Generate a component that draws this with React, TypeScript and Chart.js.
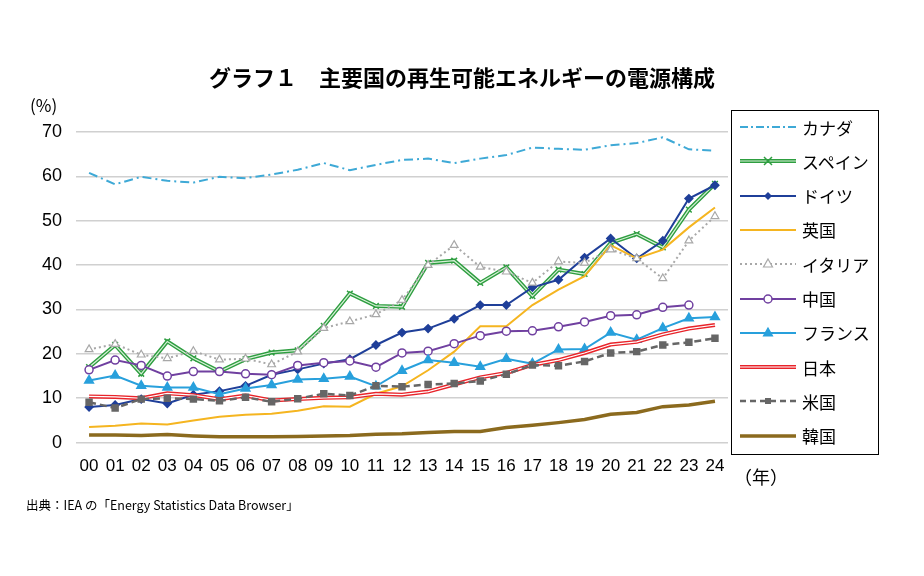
import React, { useEffect, useRef } from "react";
import { Chart, registerables } from "chart.js";
Chart.register(...registerables);

const years = ["00","01","02","03","04","05","06","07","08","09","10","11","12","13","14","15","16","17","18","19","20","21","22","23","24"];
const canada = [60.8,58.2,59.9,59.0,58.6,59.9,59.6,60.4,61.5,63.0,61.4,62.6,63.7,64.0,63.0,64.0,64.8,66.5,66.2,66.0,67.0,67.5,68.8,66.1,65.8];
const spain = [17.0,22.0,15.5,22.8,19.0,16.0,18.8,20.3,20.8,26.3,33.6,30.8,30.6,40.5,41.0,36.0,39.5,33.0,39.0,38.0,45.0,47.0,44.0,52.5,58.3];
const germany = [8.0,8.5,9.8,8.8,10.8,11.6,12.8,15.3,16.5,17.8,18.8,22.0,24.8,25.7,27.9,31.0,31.0,35.0,36.7,41.7,46.0,41.5,45.5,55.0,58.0];
const uk = [3.5,3.8,4.3,4.1,5.0,5.8,6.3,6.5,7.2,8.2,8.1,11.0,12.7,16.3,20.5,26.2,26.2,31.0,34.5,37.5,44.5,41.5,43.5,48.5,53.0];
const italy = [21.0,22.2,19.8,19.0,20.6,18.7,18.9,17.6,20.5,25.8,27.3,28.9,32.1,40.0,44.5,39.6,38.5,36.0,40.8,40.5,43.5,41.5,37.0,45.5,51.0];
const china = [16.4,18.6,17.4,15.0,16.0,16.0,15.5,15.3,17.4,18.0,18.4,17.0,20.2,20.6,22.3,24.1,25.1,25.2,26.1,27.2,28.6,28.8,30.5,31.0,null];
const france = [14.0,15.1,12.8,12.4,12.4,10.9,12.2,13.0,14.2,14.4,14.9,12.7,16.2,18.6,18.0,17.1,18.9,17.8,21.0,21.1,24.8,23.2,25.8,28.0,28.3];
const japan = [10.4,10.3,10.0,11.1,10.7,9.8,10.6,9.5,9.8,10.1,10.2,11.0,10.8,11.5,13.1,14.7,15.7,17.5,18.6,20.2,22.1,22.7,24.4,25.7,26.5];
const us = [9.1,7.8,9.8,10.0,9.8,9.4,10.2,9.2,9.9,11.0,10.6,12.8,12.6,13.1,13.3,13.9,15.4,17.5,17.3,18.3,20.2,20.5,22.0,22.6,23.5];
const korea = [1.7,1.7,1.6,1.8,1.5,1.3,1.3,1.3,1.4,1.5,1.6,1.9,2.0,2.3,2.5,2.5,3.4,3.9,4.5,5.2,6.4,6.8,8.1,8.5,9.3];

const JP = '"Noto Sans CJK JP", "Noto Sans", sans-serif';

type Leg = { name: string; color: string; dash?: string; width: number; inner?: string; marker?: string; fill?: boolean };
const legend: Leg[] = [
  { name: "カナダ", color: "#3ea9d6", dash: "8 3 2 3", width: 2 },
  { name: "スペイン", color: "#2e9e40", width: 4, inner: "#d8f0d8", marker: "x" },
  { name: "ドイツ", color: "#1f3f99", width: 2, marker: "diamond", fill: true },
  { name: "英国", color: "#f5b520", width: 2 },
  { name: "イタリア", color: "#a8a8a8", dash: "2 3", width: 2, marker: "tri" },
  { name: "中国", color: "#7040a0", width: 2, marker: "circle" },
  { name: "フランス", color: "#28a0dc", width: 2, marker: "tri", fill: true },
  { name: "日本", color: "#e8242a", width: 4, inner: "#ffffff" },
  { name: "米国", color: "#666666", dash: "6 4", width: 2.5, marker: "square", fill: true },
  { name: "韓国", color: "#8b6a1e", width: 3.5 },
];

function Marker({ l }: { l: Leg }) {
  const c = l.color;
  if (l.marker === "x") return <path d="M26 6 L34 14 M34 6 L26 14" stroke={c} strokeWidth={1.5} />;
  if (l.marker === "diamond") return <path d="M30 6 L34 10 L30 14 L26 10 Z" fill={c} />;
  if (l.marker === "tri") return <path d="M30 5 L34.5 13 L25.5 13 Z" fill={l.fill ? c : "#fff"} stroke={c} strokeWidth={1.2} />;
  if (l.marker === "circle") return <circle cx={30} cy={10} r={4} fill="#fff" stroke={c} strokeWidth={1.5} />;
  if (l.marker === "square") return <rect x={27} y={7} width={6} height={6} fill={c} />;
  return null;
}

export default function App() {
  const ref = useRef<HTMLCanvasElement>(null);
  useEffect(() => {
    const base = (label: string, data: (number | null)[], color: string, extra: any = {}) => ({
      label, data, borderColor: color, backgroundColor: color, borderWidth: 2,
      pointRadius: 0, tension: 0, spanGaps: false, ...extra,
    });
    const chart = new Chart(ref.current!, {
      type: "line",
      data: {
        labels: years,
        datasets: [
          base("canada", canada, "#3ea9d6", { borderDash: [9, 4, 2, 4], order: 10 }),
          base("spain", spain, "#2e9e40", { borderWidth: 4, order: 9, pointStyle: "crossRot", pointRadius: 4, pointBorderWidth: 1.5 }),
          base("spain_in", spain, "#d8f0d8", { borderWidth: 1.2, order: 8.5 }),
          base("germany", germany, "#1f3f99", { order: 8, pointStyle: "rectRot", pointRadius: 3.5 }),
          base("uk", uk, "#f5b520", { order: 7.5 }),
          base("italy", italy, "#a8a8a8", { borderDash: [2, 3], order: 7, pointStyle: "triangle", pointRadius: 4.5, pointBackgroundColor: "#fff", pointBorderWidth: 1.2 }),
          base("china", china, "#7040a0", { order: 6, pointStyle: "circle", pointRadius: 4, pointBackgroundColor: "#fff", pointBorderWidth: 1.5 }),
          base("france", france, "#28a0dc", { order: 5, pointStyle: "triangle", pointRadius: 4.5 }),
          base("japan", japan, "#e8242a", { borderWidth: 4, order: 4 }),
          base("japan_in", japan, "#ffffff", { borderWidth: 1.2, order: 3.5 }),
          base("us", us, "#666666", { borderDash: [7, 4], borderWidth: 2.5, order: 3, pointStyle: "rect", pointRadius: 3.5 }),
          base("korea", korea, "#8b6a1e", { borderWidth: 3.5, order: 2 }),
        ],
      },
      options: {
        animation: false, responsive: false,
        layout: { padding: { left: 28, right: 196, top: 132, bottom: 93 } },
        plugins: { legend: { display: false }, tooltip: { enabled: false } },
        scales: {
          x: {
            grid: { display: false }, border: { display: false },
            ticks: { color: "#000", font: { size: 17, family: "Arial, Liberation Sans" }, maxRotation: 0, autoSkip: false, padding: 6 },
            offset: true,
          },
          y: {
            min: 0, max: 70,
            ticks: { stepSize: 10, color: "#000", font: { size: 18, family: "Arial, Liberation Sans" }, padding: 14 },
            grid: { color: "#d0d0d0", lineWidth: 1.5, drawTicks: false },
            border: { display: false },
          },
        },
      },
    });
    return () => chart.destroy();
  }, []);
  return (
    <div style={{ position: "relative", width: 924, height: 576, margin: -8, background: "#fff", fontFamily: JP }}>
      <canvas ref={ref} width={924} height={576} style={{ position: "absolute", left: 0, top: 0 }} />
      <div style={{ position: "absolute", top: 60, left: 0, width: 924, textAlign: "center", fontSize: 22, fontWeight: "bold" }}>グラフ１　主要国の再生可能エネルギーの電源構成</div>
      <div style={{ position: "absolute", top: 92, left: 30, fontSize: 17 }}>(%)</div>
      <div style={{ position: "absolute", top: 463, left: 734, fontSize: 18 }}>（年）</div>
      <div style={{ position: "absolute", top: 495, left: 26, fontSize: 12.5 }}>出典：IEA の「Energy Statistics Data Browser」</div>
      <div style={{ position: "absolute", left: 731, top: 110, width: 148, height: 345, border: "1.5px solid #000", boxSizing: "border-box" }}>
        {legend.map((l, i) => (
          <div key={i} style={{ position: "absolute", left: 6, top: 6 + i * 34.3, height: 20, display: "flex", alignItems: "center" }}>
            <svg width={62} height={20}>
              <line x1={2} y1={10} x2={58} y2={10} stroke={l.color} strokeWidth={l.width} strokeDasharray={l.dash} />
              {l.inner && <line x1={2} y1={10} x2={58} y2={10} stroke={l.inner} strokeWidth={1.2} />}
              <Marker l={l} />
            </svg>
            <span style={{ fontSize: 17, marginLeft: 2 }}>{l.name}</span>
          </div>
        ))}
      </div>
    </div>
  );
}
